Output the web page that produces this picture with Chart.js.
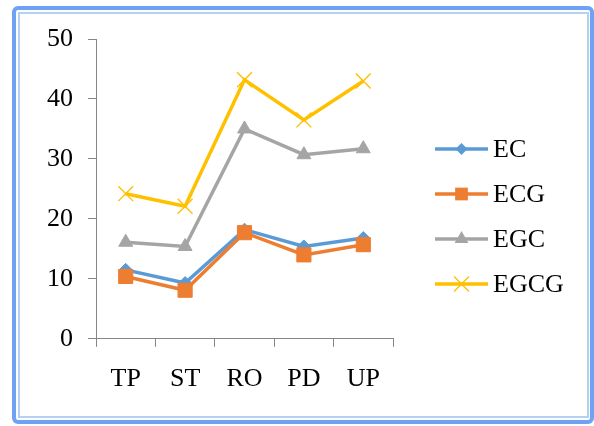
<!DOCTYPE html>
<html>
<head>
<meta charset="utf-8">
<script src="https://cdn.jsdelivr.net/npm/chart.js@4/dist/chart.umd.min.js"></script>
<style>
  html, body { margin: 0; padding: 0; background: #ffffff; }
  canvas { display: block; }
</style>
</head>
<body>
<canvas id="chart" width="594" height="426"></canvas>
<script>
// Categories along the x axis
const categories = ['TP', 'ST', 'RO', 'PD', 'UP'];

// Series values
const ecValues   = [11.5, 9.3, 18.2, 15.4, 16.8];
const ecgValues  = [10.4, 8.1, 17.7, 14.0, 15.7];
const egcValues  = [16.1, 15.4, 35.0, 30.7, 31.7];
const egcgValues = [24.2, 22.1, 43.2, 36.5, 43.0];

// Value axis
const yMin = 0;
const yMax = 50;
const yStep = 10;

const FONT = 'Liberation Serif, "Times New Roman", serif';
const AXIS_GREY = '#868686';
const LINE_W = 3.5;

const seriesStyles = [
  { label: 'EC',   color: '#5B9BD5', point: 'rectRot',  radius: 6.5, order: 4 },
  { label: 'ECG',  color: '#ED7D31', point: 'rect',     radius: 10,  order: 3 },
  { label: 'EGC',  color: '#A5A5A5', point: 'triangle', radius: 8,   order: 2 },
  { label: 'EGCG', color: '#FFC000', point: 'crossRot', radius: 10.5, order: 1 }
];
const seriesValues = [ecValues, ecgValues, egcValues, egcgValues];

const datasets = seriesStyles.map((s, i) => ({
  label: s.label,
  data: seriesValues[i],
  borderColor: s.color,
  backgroundColor: s.color,
  borderWidth: LINE_W,
  pointStyle: s.point,
  pointRadius: s.radius,
  pointHoverRadius: s.radius,
  pointBackgroundColor: s.color,
  pointBorderColor: s.color,
  pointBorderWidth: s.point === 'crossRot' ? 1.4 : 1,
  tension: 0,
  order: s.order
}));

// Marker shapes for the legend, same geometry as Chart.js point styles
function drawMarker(ctx, style, x, y, r) {
  const Q = Math.PI / 4;
  ctx.beginPath();
  if (style === 'rect') {
    const s = Math.SQRT1_2 * r;
    ctx.rect(x - s, y - s, 2 * s, 2 * s);
    ctx.fill();
  } else if (style === 'rectRot') {
    ctx.moveTo(x, y - r);
    ctx.lineTo(x + r, y);
    ctx.lineTo(x, y + r);
    ctx.lineTo(x - r, y);
    ctx.closePath();
    ctx.fill();
  } else if (style === 'triangle') {
    let rad = 0;
    ctx.moveTo(x + Math.sin(rad) * r, y - Math.cos(rad) * r);
    rad += 2 * Math.PI / 3;
    ctx.lineTo(x + Math.sin(rad) * r, y - Math.cos(rad) * r);
    rad += 2 * Math.PI / 3;
    ctx.lineTo(x + Math.sin(rad) * r, y - Math.cos(rad) * r);
    ctx.closePath();
    ctx.fill();
  } else if (style === 'crossRot') {
    const o = Math.cos(Q) * r;
    ctx.moveTo(x - o, y - o);
    ctx.lineTo(x + o, y + o);
    ctx.moveTo(x - o, y + o);
    ctx.lineTo(x + o, y - o);
    ctx.stroke();
  }
}

// Double blue frame around the whole figure
const framePlugin = {
  id: 'frame',
  beforeDraw(chart) {
    const ctx = chart.ctx;
    ctx.save();
    ctx.fillStyle = '#ffffff';
    ctx.fillRect(0, 0, chart.width, chart.height);

    ctx.lineWidth = 4;
    ctx.strokeStyle = '#6fa2f5';
    ctx.beginPath();
    ctx.roundRect(14, 8, 578, 414, 4);
    ctx.stroke();

    ctx.lineWidth = 2;
    ctx.strokeStyle = '#b6d0f3';
    ctx.beginPath();
    ctx.rect(19, 13, 569, 404);
    ctx.stroke();
    ctx.restore();
  }
};

// Legend on the right: line sample with marker, then the series name
const sideLegendPlugin = {
  id: 'sideLegend',
  afterDraw(chart) {
    const ctx = chart.ctx;
    const x0 = 435;
    const lineLen = 53;
    const top = 149;
    const gap = 45;
    ctx.save();
    seriesStyles.forEach((s, i) => {
      const y = top + i * gap;
      ctx.strokeStyle = s.color;
      ctx.fillStyle = s.color;
      ctx.lineWidth = LINE_W;
      ctx.beginPath();
      ctx.moveTo(x0, y);
      ctx.lineTo(x0 + lineLen, y);
      ctx.stroke();
      ctx.lineWidth = s.point === 'crossRot' ? 1.4 : 1;
      const r = s.point === 'rect' ? 9 : s.point === 'rectRot' ? 6 : s.radius;
      drawMarker(ctx, s.point, x0 + lineLen / 2, y, r);

      ctx.fillStyle = '#000000';
      ctx.font = '26px ' + FONT;
      ctx.textAlign = 'left';
      ctx.textBaseline = 'middle';
      ctx.fillText(s.label, x0 + lineLen + 5, y + 1);
    });
    ctx.restore();
  }
};

new Chart(document.getElementById('chart'), {
  type: 'line',
  data: { labels: categories, datasets },
  plugins: [framePlugin, sideLegendPlugin],
  options: {
    responsive: false,
    animation: false,
    devicePixelRatio: 1,
    layout: { padding: { left: 32, right: 201, top: 39, bottom: 14 } },
    plugins: {
      legend: { display: false },
      tooltip: { enabled: false },
      title: { display: false }
    },
    scales: {
      x: {
        type: 'category',
        offset: true,
        grid: {
          offset: true,
          drawOnChartArea: false,
          drawTicks: true,
          tickLength: 8,
          color: AXIS_GREY,
          lineWidth: 1
        },
        border: { display: true, color: AXIS_GREY, width: 1 },
        ticks: {
          color: '#000000',
          padding: 17,
          font: { family: FONT, size: 26 },
          maxRotation: 0
        }
      },
      y: {
        min: yMin,
        max: yMax,
        grid: {
          drawOnChartArea: false,
          drawTicks: true,
          tickLength: 8,
          color: AXIS_GREY,
          lineWidth: 1
        },
        border: { display: true, color: AXIS_GREY, width: 1 },
        ticks: {
          stepSize: yStep,
          color: '#000000',
          padding: 15,
          font: { family: FONT, size: 26 }
        }
      }
    }
  }
});
</script>
</body>
</html>
